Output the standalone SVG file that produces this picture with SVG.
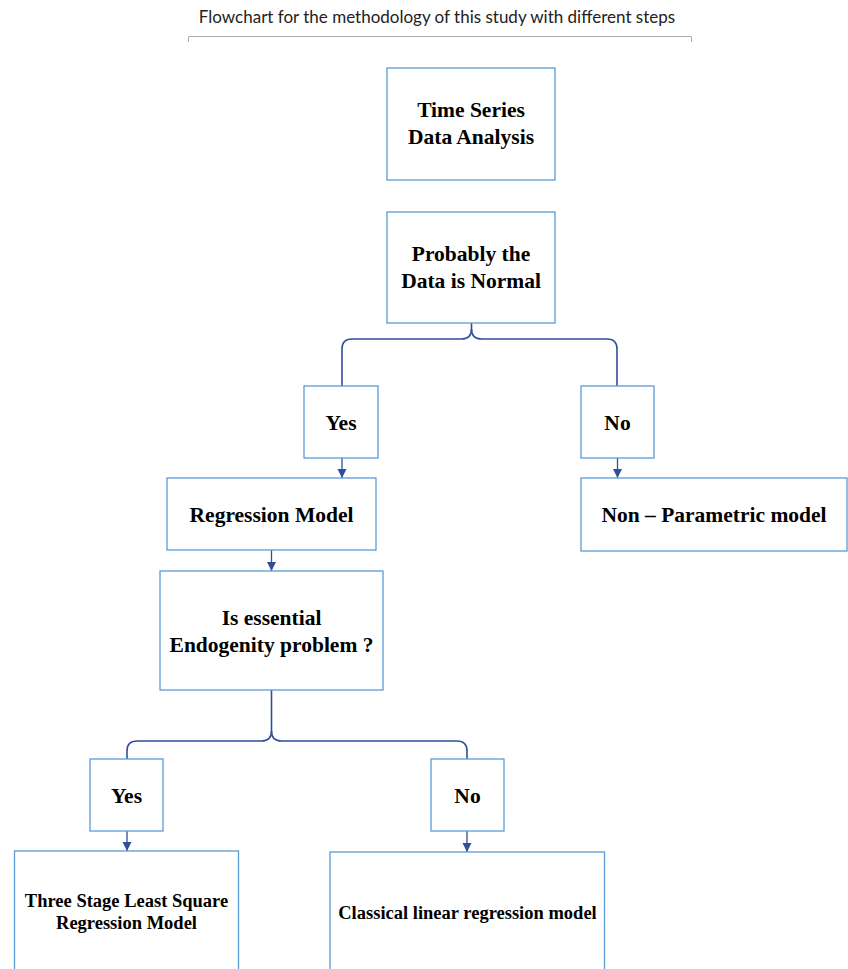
<svg xmlns="http://www.w3.org/2000/svg" width="848" height="969" viewBox="0 0 848 969">
<defs>
<marker id="ah" markerWidth="10" markerHeight="10" refX="9" refY="5" orient="auto" markerUnits="userSpaceOnUse" viewBox="0 0 10 10">
<path d="M0,0.5 L9,5 L0,9.5 Z" fill="#2F4F9A"/>
</marker>
<style>
.box{fill:#fff;stroke:#5B9BD5;stroke-width:1.3}
.t{font-family:"Liberation Serif","Times New Roman",serif;font-weight:bold;fill:#000;text-anchor:middle}
.m{font-size:21.5px}
.s{font-size:18.5px}
.c{fill:none;stroke:#2F4F9A;stroke-width:1.6}
.a{fill:none;stroke:#2F4F9A;stroke-width:1.3}
</style>
</defs>
<rect width="848" height="969" fill="#fff"/>
<g id="title">
<text x="437" y="23" font-family="Lato,'Liberation Sans',sans-serif" font-size="17" fill="#222" text-anchor="middle">Flowchart for the methodology of this study with different steps</text>
<path d="M188.5,42 V36.5 H691.5 V42" fill="none" stroke="#aaa" stroke-width="1"/>
</g>
<g id="connectors">
<path class="c" d="M471.5,323 V329 Q471.5,339 461.5,339 H352 Q342,339 342,349 V386"/>
<path class="c" d="M471.5,329 Q471.5,339 481.5,339 H607 Q617,339 617,349 V386"/>
<path class="c" d="M271.5,690 V731 Q271.5,741 261.5,741 H137 Q127,741 127,751 V759"/>
<path class="c" d="M271.5,731 Q271.5,741 281.5,741 H457 Q467,741 467,751 V759"/>
<line class="a" x1="342" y1="458" x2="342" y2="478" marker-end="url(#ah)"/>
<line class="a" x1="617.5" y1="458" x2="617.5" y2="478" marker-end="url(#ah)"/>
<line class="a" x1="271.5" y1="550" x2="271.5" y2="571" marker-end="url(#ah)"/>
<line class="a" x1="127" y1="831" x2="127" y2="851" marker-end="url(#ah)"/>
<line class="a" x1="467" y1="831" x2="467" y2="852" marker-end="url(#ah)"/>
</g>
<g id="n1">
<rect class="box" x="387" y="68" width="168" height="112"/>
<text class="t m" x="471" y="117">Time Series</text>
<text class="t m" x="471" y="144">Data Analysis</text>
</g>
<g id="n2">
<rect class="box" x="387" y="212" width="168" height="111"/>
<text class="t m" x="471" y="261">Probably the</text>
<text class="t m" x="471" y="288">Data is Normal</text>
</g>
<g id="n3">
<rect class="box" x="304" y="386" width="74" height="72"/>
<text class="t m" x="341" y="430">Yes</text>
</g>
<g id="n4">
<rect class="box" x="581" y="386" width="73" height="72"/>
<text class="t m" x="617.5" y="430">No</text>
</g>
<g id="n5">
<rect class="box" x="167" y="478" width="209" height="72"/>
<text class="t m" x="271.5" y="522">Regression Model</text>
</g>
<g id="n6">
<rect class="box" x="581" y="478" width="266" height="73"/>
<text class="t m" x="714" y="522">Non – Parametric model</text>
</g>
<g id="n7">
<rect class="box" x="160" y="571" width="223" height="119"/>
<text class="t m" x="271.5" y="625">Is essential</text>
<text class="t m" x="271.5" y="652">Endogenity problem ?</text>
</g>
<g id="n8">
<rect class="box" x="90" y="759" width="73" height="72"/>
<text class="t m" x="126.5" y="803">Yes</text>
</g>
<g id="n9">
<rect class="box" x="431" y="759" width="73" height="72"/>
<text class="t m" x="467.5" y="803">No</text>
</g>
<g id="n10">
<rect class="box" x="14.5" y="851" width="224" height="130"/>
<text class="t s" x="126.5" y="907">Three Stage Least Square</text>
<text class="t s" x="126.5" y="929">Regression Model</text>
</g>
<g id="n11">
<rect class="box" x="330" y="852" width="274.5" height="130"/>
<text class="t s" x="467.5" y="919">Classical linear regression model</text>
</g>
</svg>
